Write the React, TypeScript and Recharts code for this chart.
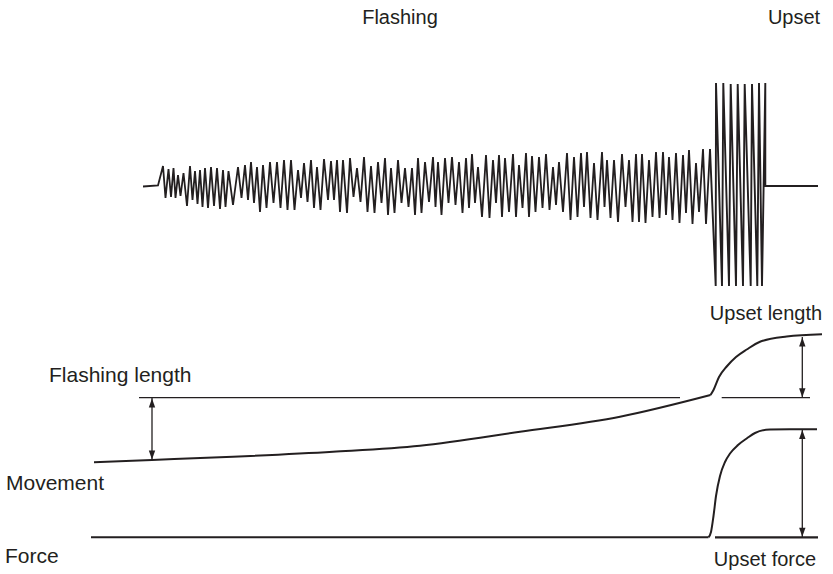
import React from "react";
import { ComposedChart, Line, Scatter, XAxis, YAxis } from "recharts";

// Coordinates are in a drawing unit space: x = time (0..833), y = level (0..574, downward)
const flashingWave: [number, number][] = [
  [143, 186.5], [158, 185.5],
  [163, 166], [165.5, 198], [168.5, 169], [171, 197], [173.5, 168], [175.5, 198], [178, 175], [180.5, 196],
  [183.5, 173], [187, 206], [190, 166], [192.5, 200], [195, 171], [197.5, 204], [200, 170], [202.5, 207],
  [205, 168], [208, 208], [211, 167], [214, 206], [217, 168], [220, 209], [223, 170], [225.5, 207],
  [228.5, 171], [233, 205],
  [238, 167], [241.5, 198], [245, 165], [248, 200], [251, 162], [254, 203], [257, 167], [260, 212],
  [263, 165], [266.5, 208], [270, 162], [273.5, 203], [277, 162], [280.5, 208], [284, 160], [287.5, 210],
  [291, 160], [294.5, 210], [298, 170], [301, 198], [304, 163], [307.5, 202], [311, 160], [314, 208],
  [317, 167], [320.5, 210], [324, 159], [328, 200],
  [331, 161], [334, 200], [337, 160], [340, 212], [343, 160], [347, 213], [350, 158], [353.5, 197],
  [357, 168], [360.5, 202], [364, 157], [367.5, 212], [371, 166], [374.5, 213], [378, 162], [381.5, 203],
  [385, 158], [388, 215], [391, 168], [394.5, 213], [398, 160], [401.5, 203], [405, 168], [408.5, 207],
  [412, 168], [415, 215],
  [418, 158], [421.5, 213], [425, 162], [429, 202], [433, 157], [435.5, 207], [438, 162], [441.5, 215],
  [445, 158], [448.5, 203], [452, 157], [455.5, 205], [459, 162], [462.5, 213], [466, 158], [469, 208],
  [472, 154], [475, 203], [478, 167], [482, 217], [486, 155], [489.5, 218], [493, 160], [496, 203],
  [499, 155], [502, 217],
  [505, 158], [509, 212], [513, 154], [516, 217], [519, 165], [522.5, 208], [526, 153], [529, 217],
  [532, 156], [535.5, 212], [539, 157], [542.5, 208], [546, 154], [549.5, 210], [553, 167], [556, 205],
  [559, 162], [563, 212], [567, 153], [570.5, 220], [574, 157], [577.5, 217], [581, 153], [584, 207],
  [587, 152], [590.5, 218], [594, 163], [597.5, 220],
  [602, 152], [604.5, 207], [607, 160], [610.5, 218], [614, 160], [618, 222], [622, 154], [625.5, 207],
  [629, 160], [632.5, 222], [636, 154], [639, 222], [642, 154], [645.5, 223], [649, 160], [652.5, 217],
  [656, 152], [659.5, 218], [663, 152], [666, 215], [669, 157], [672.5, 220], [676, 153], [679.5, 223],
  [683, 155], [686, 213], [689, 150], [692.5, 224], [696, 163], [699, 212], [703, 149], [706, 224],
  [710, 149],
];

const upsetWave: [number, number][] = [
  [710, 149], [715.7, 286], [716, 83], [722, 286], [723.3, 83], [729, 286], [730.7, 84], [736, 286],
  [737.7, 84], [743, 286], [744.7, 84], [750.7, 286], [752, 84], [757.3, 286], [759, 83], [762, 286],
  [765.3, 83], [765.3, 186], [818, 186],
];

const movementFlashing: [number, number][] = [
  [94, 462.3], [152, 460], [233, 456.7], [333, 451.7], [420, 445.7], [520, 431.7], [620, 416.7], [710.5, 395],
];
const movementUpset: [number, number][] = [
  [710.5, 395], [713.5, 390], [719, 377], [726.7, 366.5], [736, 357], [746.7, 349.5], [760, 341.7],
  [786.7, 336.5], [822, 334.3],
];

const forceBase: [number, number][] = [[91, 537.3], [708.5, 537.3]];
const forceRise: [number, number][] = [
  [708.5, 537.3], [711, 532], [713.5, 516], [716, 496], [720, 476], [725, 462], [730, 453.5], [738, 445],
  [746.7, 438.5], [755, 433], [770, 429.5], [790, 429.3], [817, 429.3],
];
const forceRef: [number, number][] = [[715, 537.3], [818, 537.3]];

const flashRefLeft: [number, number][] = [[139, 397.7], [680, 397.7]];
const flashRefRight: [number, number][] = [[721.7, 397.7], [810, 397.7]];

const arrowFlashLen: [number, number][] = [[152, 398], [152, 460]];
const arrowUpsetLen: [number, number][] = [[802.3, 337], [802.3, 397.7]];
const arrowUpsetForce: [number, number][] = [[802.3, 429.5], [802.3, 537.3]];

const arrowHeads = [
  { x: 152, y: 398.5, dir: "up" },
  { x: 152, y: 459.5, dir: "down" },
  { x: 802.3, y: 337.5, dir: "up" },
  { x: 802.3, y: 397.2, dir: "down" },
  { x: 802.3, y: 430, dir: "up" },
  { x: 802.3, y: 536.8, dir: "down" },
];

const labels = [
  { x: 400, y: 24, text: "Flashing", size: 20, anchor: "middle" },
  { x: 794, y: 24, text: "Upset", size: 20, anchor: "middle" },
  { x: 766, y: 320, text: "Upset length", size: 20, anchor: "middle" },
  { x: 49, y: 382, text: "Flashing length", size: 21, anchor: "start" },
  { x: 6, y: 490, text: "Movement", size: 21, anchor: "start" },
  { x: 5, y: 563, text: "Force", size: 21, anchor: "start" },
  { x: 765, y: 566, text: "Upset force", size: 20, anchor: "middle" },
];

const toPts = (a: [number, number][]) => a.map(([x, y]) => ({ x, y }));

const INK = "#231f20";

const ArrowHead = (props: any) => {
  const { cx, cy, payload } = props;
  if (cx == null || cy == null) return null;
  const w = 3.2;
  const h = 9;
  const d = payload.dir === "up" ? 1 : -1;
  const pts = `${cx},${cy} ${cx - w},${cy + d * h} ${cx + w},${cy + d * h}`;
  return <polygon points={pts} fill={INK} stroke="none" />;
};

const LabelShape = (props: any) => {
  const { cx, cy, payload } = props;
  if (cx == null || cy == null) return null;
  return (
    <text
      x={cx}
      y={cy}
      textAnchor={payload.anchor}
      fontFamily="'Liberation Sans', Arial, sans-serif"
      fontSize={payload.size}
      fill={INK}
    >
      {payload.text}
    </text>
  );
};

type Seg = { data: [number, number][]; width: number; curve: "linear" | "monotone" };

const segments: Seg[] = [
  { data: flashingWave, width: 1.8, curve: "linear" },
  { data: upsetWave, width: 1.9, curve: "linear" },
  { data: movementFlashing, width: 2, curve: "monotone" },
  { data: movementUpset, width: 2, curve: "monotone" },
  { data: forceBase, width: 2, curve: "linear" },
  { data: forceRise, width: 2, curve: "monotone" },
  { data: forceRef, width: 2.2, curve: "linear" },
  { data: flashRefLeft, width: 1.3, curve: "linear" },
  { data: flashRefRight, width: 1.3, curve: "linear" },
  { data: arrowFlashLen, width: 1.3, curve: "linear" },
  { data: arrowUpsetLen, width: 1.3, curve: "linear" },
  { data: arrowUpsetForce, width: 1.3, curve: "linear" },
];

export default function App() {
  return (
    <div style={{ position: "absolute", left: 0, top: 0, width: 833, height: 574, background: "#fff" }}>
      <ComposedChart width={833} height={574} margin={{ top: 0, right: 0, bottom: 0, left: 0 }}>
        <XAxis type="number" dataKey="x" domain={[0, 833]} allowDataOverflow hide />
        <YAxis type="number" dataKey="y" domain={[0, 574]} reversed allowDataOverflow hide />
        {segments.map((s, i) => (
          <Line
            key={i}
            data={toPts(s.data)}
            dataKey="y"
            type={s.curve}
            stroke={INK}
            strokeWidth={s.width}
            strokeLinejoin="miter"
            dot={false}
            activeDot={false}
            isAnimationActive={false}
          />
        ))}
        <Scatter data={arrowHeads} dataKey="y" shape={ArrowHead} isAnimationActive={false} />
        <Scatter data={labels} dataKey="y" shape={LabelShape} isAnimationActive={false} />
      </ComposedChart>
    </div>
  );
}
